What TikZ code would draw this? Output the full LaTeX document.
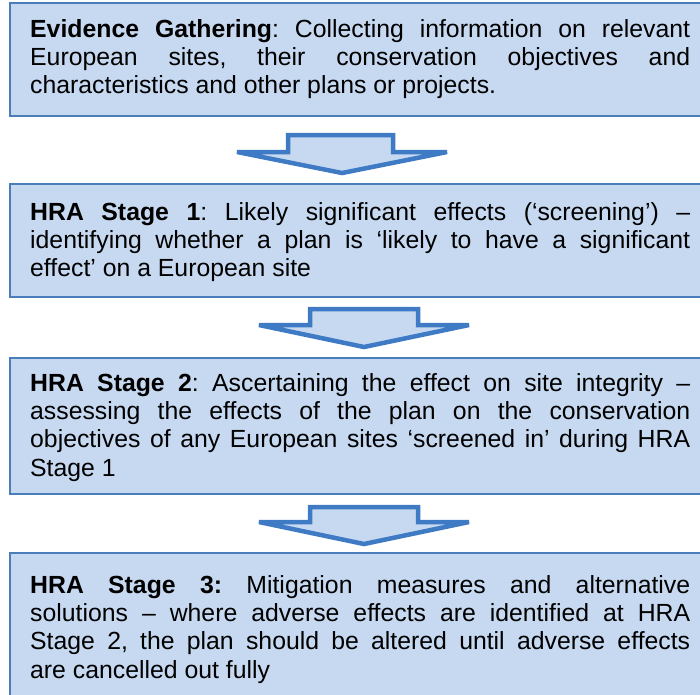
\documentclass[tikz,border=0pt]{standalone}
\usepackage{fontspec}
\setmainfont{Liberation Sans}
\definecolor{boxfill}{HTML}{C6D9F1}
\definecolor{boxline}{HTML}{4A7EBB}
\definecolor{arrline}{HTML}{3E7BC4}
% plain font interword glue (undo the fixed spacing of align=left)
\newcommand{\fontspaces}{\spaceskip=0pt\xspaceskip=0pt\frenchspacing}
% one justified line of fixed width
\newcommand{\jline}[1]{\makebox[660pt][s]{\fontspaces #1}}
\begin{document}
\begin{tikzpicture}[x=1pt,y=-1pt,
  stagebox/.style={draw=boxline,fill=boxfill,line width=1.4pt},
  blockarrow/.style={draw=arrline,fill=boxfill,line width=4.5pt,line join=miter,miter limit=2},
  stagetext/.style={anchor=base west,inner sep=0pt,text width=660pt,align=left,
    font=\fontsize{24.8pt}{28.4pt}\selectfont}]
\useasboundingbox (0,0) rectangle (700,694);
\clip (0,0) rectangle (700,694);

% stage boxes
\draw[stagebox] (10,3) rectangle (720,116);
\draw[stagebox] (10,184) rectangle (720,297);
\draw[stagebox] (10,358) rectangle (720,494);
\draw[stagebox] (10,553) rectangle (720,720);

% block arrows between the boxes: shaft, wings, shallow head
\draw[blockarrow] (288,135) -- (393,135) -- (393,152) -- (447,152) -- (342,173)
  -- (237,152) -- (288,152) -- cycle;
\draw[blockarrow] (310,309) -- (418,309) -- (418,325) -- (469,325) -- (364,347)
  -- (259,325) -- (310,325) -- cycle;
\draw[blockarrow] (310,507) -- (418,507) -- (418,522) -- (469,522) -- (364,544)
  -- (259,522) -- (310,522) -- cycle;

% box texts
\node[stagetext] (evidence) at (30,37) {\fontspaces
  \jline{\textbf{Evidence Gathering}: Collecting information on relevant}\\
  \jline{European sites, their conservation objectives and}\\
  characteristics and other plans or projects.};

\node[stagetext] (stage1) at (30,220) {\fontspaces
  \jline{\textbf{HRA Stage 1}: Likely significant effects (‘screening’) –}\\
  \jline{identifying whether a plan is ‘likely to have a significant}\\
  effect’ on a European site};

\node[stagetext] (stage2) at (30,391) {\fontspaces
  \jline{\textbf{HRA Stage 2}: Ascertaining the effect on site integrity –}\\
  \jline{assessing the effects of the plan on the conservation}\\
  \jline{objectives of any European sites ‘screened in’ during HRA}\\
  Stage 1};

\node[stagetext] (stage3) at (30,593) {\fontspaces
  \jline{\textbf{HRA Stage 3:} Mitigation measures and alternative}\\
  \jline{solutions – where adverse effects are identified at HRA}\\
  \jline{Stage 2, the plan should be altered until adverse effects}\\
  are cancelled out fully};
\end{tikzpicture}
\end{document}
